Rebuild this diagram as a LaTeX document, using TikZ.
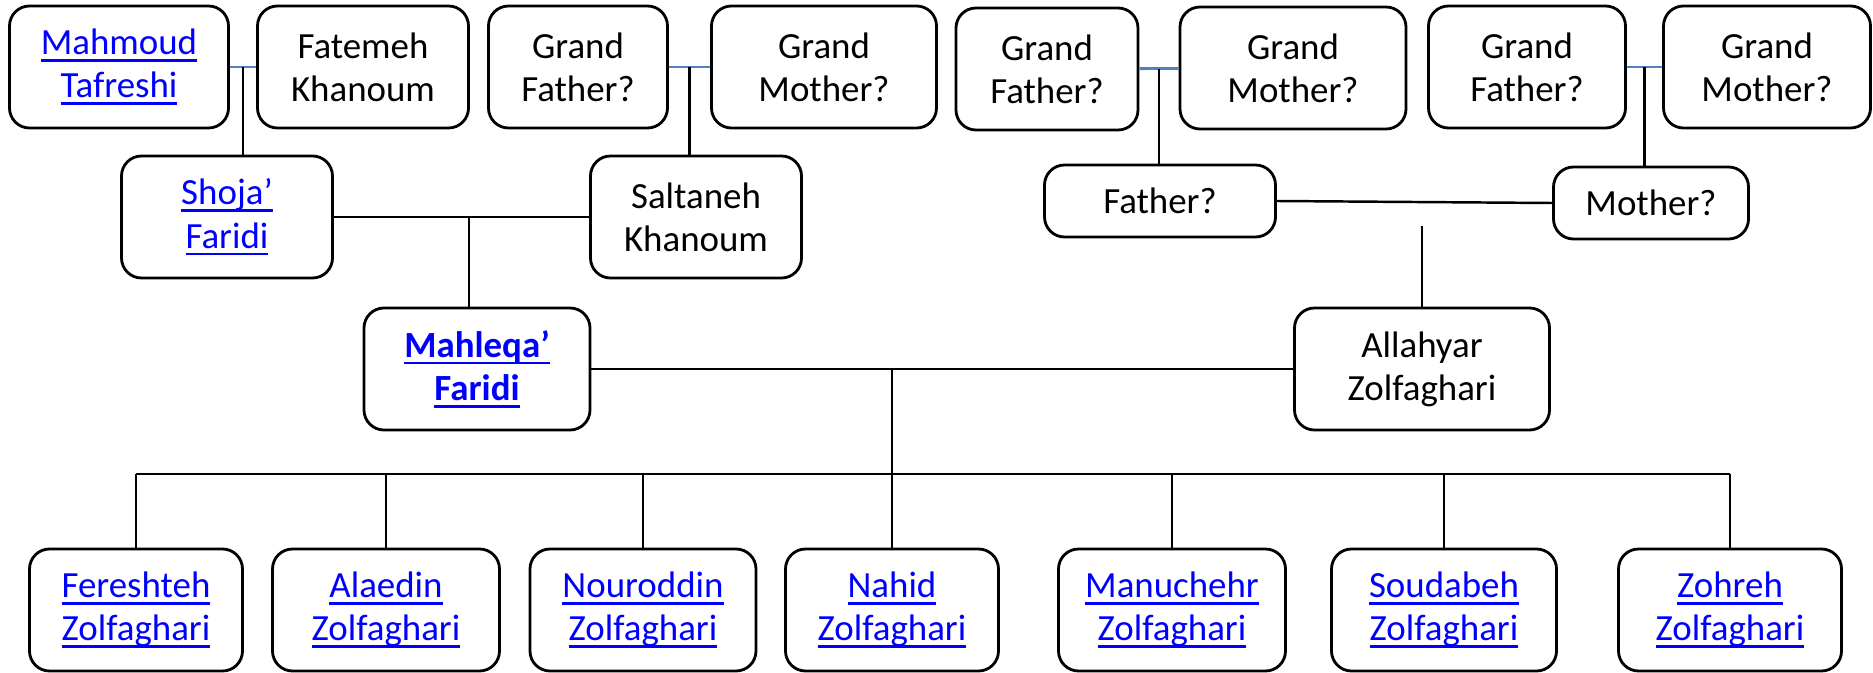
\documentclass[tikz,border=0pt]{standalone}
\usepackage{fontspec}
\setmainfont{Carlito}
\usepackage{xcolor}
\usepackage{tikz}
\usetikzlibrary{calc,positioning}
\definecolor{linkblue}{RGB}{0,0,255}
\definecolor{spouseblue}{RGB}{79,129,189}
\newcommand{\lnk}[1]{\textcolor{linkblue}{\setbox0\hbox{#1}\rlap{\rule[-2pt]{\wd0}{0.7pt}}\box0}}
\tikzset{%
	person/.style   = {draw, rectangle, rounded corners=0.2cm, minimum height=1.22cm, text centered, align=center, line width=0.8pt, font=\fontsize{10.5}{12.3}\selectfont},
	single/.style   = {person, minimum height=0.72cm},
	spouse/.style   = {line width=0.8pt, spouseblue},
	couple/.style   = {line width=0.7pt},
	descent/.style  = {line width=0.6pt},
}
\begin{document}
\begin{tikzpicture}
		\useasboundingbox (0,0) rectangle (18.73,-6.73);
		% grandparents
		\node[person, minimum width=2.19cm] (mahmoud) at (1.19,-0.67) {\lnk{Mahmoud}\\\lnk{Tafreshi}};
		\node[person, minimum width=2.11cm] (fatemeh) at (3.63,-0.67) {Fatemeh\\Khanoum};
		\node[person, minimum width=1.79cm] (gfa) at (5.78,-0.67) {Grand\\Father?};
		\node[person, minimum width=2.25cm] (gma) at (8.24,-0.67) {Grand\\Mother?};
		\node[person, minimum width=1.82cm] (gfb) at (10.47,-0.69) {Grand\\Father?};
		\node[person, minimum width=2.26cm] (gmb) at (12.93,-0.68) {Grand\\Mother?};
		\node[person, minimum width=1.97cm] (gfc) at (15.27,-0.67) {Grand\\Father?};
		\node[person, minimum width=2.07cm] (gmc) at (17.67,-0.67) {Grand\\Mother?};
		% parents
		\node[person, minimum width=2.11cm] (shoja) at (2.27,-2.17) {\lnk{Shoja’}\\\lnk{Faridi}};
		\node[person, minimum width=2.11cm] (saltaneh) at (6.96,-2.17) {Saltaneh\\Khanoum};
		\node[single, minimum width=2.31cm] (father) at (11.60,-2.01) {Father?};
		\node[single, minimum width=1.95cm] (mother) at (16.51,-2.03) {Mother?};
		\node[person, minimum width=2.26cm] (mahleqa) at (4.77,-3.69) {\textbf{\lnk{Mahleqa’}}\\\textbf{\lnk{Faridi}}};
		\node[person, minimum width=2.55cm] (allahyar) at (14.22,-3.69) {Allahyar\\Zolfaghari};
		% children
		\foreach \nm/\x/\w/\first in {fereshteh/1.36/2.13/Fereshteh, alaedin/3.86/2.27/Alaedin, nouroddin/6.43/2.26/Nouroddin, nahid/8.92/2.13/Nahid, manuchehr/11.72/2.27/Manuchehr, soudabeh/14.44/2.25/Soudabeh, zohreh/17.30/2.23/Zohreh}
			\node[person, minimum width=\w cm] (\nm) at (\x,-6.10) {\lnk{\first}\\\lnk{Zolfaghari}};
		% marriages of the grandparents
		\draw[spouse] (mahmoud) -- coordinate (mta) (fatemeh);
		\draw[spouse] (gfa) -- coordinate (mtb) (gma);
		\draw[spouse] (gfb) -- coordinate (mtc) (gmb);
		\draw[spouse] (gfc) -- coordinate (mtd) (gmc);
		\draw[descent] (mta) -- (mta |- shoja.north);
		\draw[descent] (mtb) -- (mtb |- saltaneh.north);
		\draw[descent] (mtc) -- (mtc |- father.north);
		\draw[descent] (mtd) -- (mtd |- mother.north);
		% marriages of the parents
		\draw[couple] (shoja) -- coordinate[pos=0.53] (mte) (saltaneh);
		\draw[descent] (mte) -- (mte |- mahleqa.north);
		\draw[couple] (father.east) -- (mother.west);
		\coordinate (gap) at (14.22,-2.26);
		\draw[descent] (gap) -- (allahyar.north);
		\draw[couple] (mahleqa) -- (allahyar);
		% children bar
		\coordinate (bar) at (0,-4.74);
		\draw[descent] (nahid.north |- mahleqa.east) -- (nahid.north);
		\draw[couple] (fereshteh.north |- bar) -- (zohreh.north |- bar);
		\foreach \nm in {fereshteh,alaedin,nouroddin,manuchehr,soudabeh,zohreh}
			\draw[descent] (\nm.north) -- (\nm.north |- bar);
		\end{tikzpicture}
\end{document}
